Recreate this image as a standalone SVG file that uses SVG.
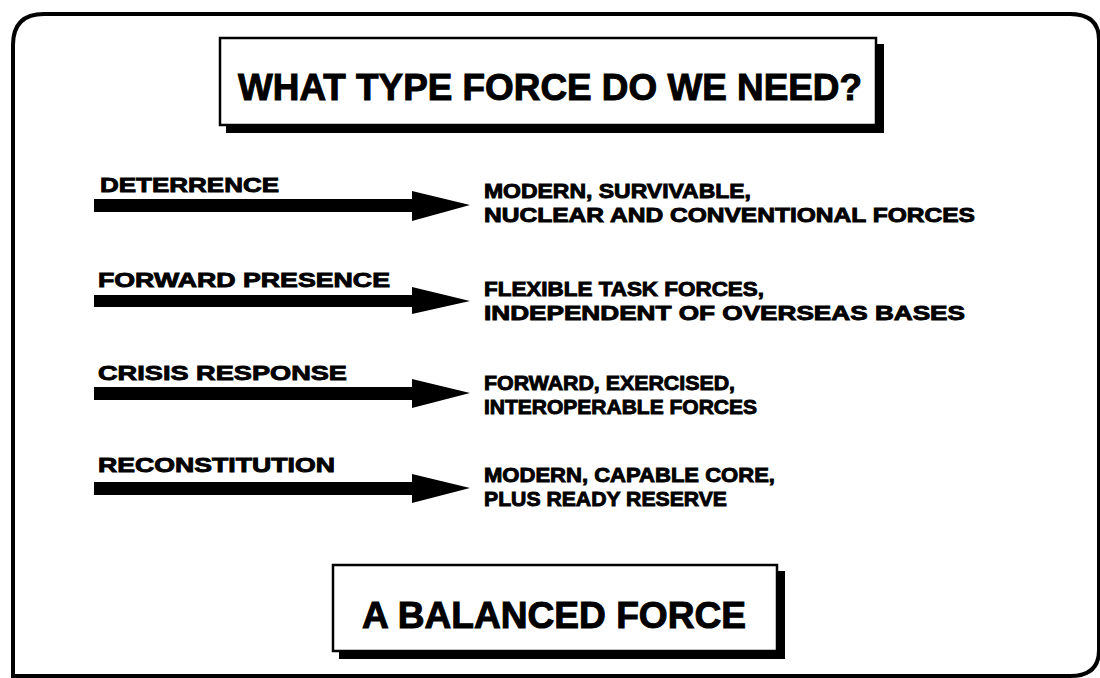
<svg xmlns="http://www.w3.org/2000/svg" width="1100" height="678" viewBox="0 0 1100 678">
<style>
.t{font-family:"Liberation Sans",Arial,sans-serif;font-weight:bold;fill:#000;stroke:#000;stroke-width:0.9}
.lbl{font-size:21px}
.rt{font-size:20px}
.big{font-size:37px;stroke-width:1}
.box{fill:#fff;stroke:#000;stroke-width:2.5}
.shadow{fill:#000}
</style>
<rect x="0" y="0" width="1100" height="678" fill="#fff"/>
<path d="M13,676 L13,45 Q13,14 44,14 L1070,14 Q1099,14 1099,40 L1099,650 Q1099,676 1070,676 Z" fill="none" stroke="#000" stroke-width="4"/>
<g id="title">
<rect class="shadow" x="226" y="44" width="658" height="89"/>
<rect class="box" x="220" y="38" width="656" height="87"/>
<text class="t big" x="238" y="100" textLength="624" lengthAdjust="spacingAndGlyphs">WHAT TYPE FORCE DO WE NEED?</text>
</g>
<g id="connectors" fill="#000">
<path d="M94,199 L412,199 L412,191 L470,205 L412,221 L412,212 L94,212 Z"/>
<path d="M94,295 L412,295 L412,287 L470,301 L412,314 L412,307 L94,307 Z"/>
<path d="M94,387 L412,387 L412,379 L470,393 L412,408 L412,400 L94,400 Z"/>
<path d="M94,482 L412,482 L412,474 L470,488 L412,503 L412,495 L94,495 Z"/>
</g>
<g id="deterrence"><text class="t lbl" x="100" y="192" textLength="179" lengthAdjust="spacingAndGlyphs">DETERRENCE</text></g>
<g id="forward-presence"><text class="t lbl" x="98" y="287" textLength="292" lengthAdjust="spacingAndGlyphs">FORWARD PRESENCE</text></g>
<g id="crisis-response"><text class="t lbl" x="98" y="380" textLength="249" lengthAdjust="spacingAndGlyphs">CRISIS RESPONSE</text></g>
<g id="reconstitution"><text class="t lbl" x="98" y="472" textLength="237" lengthAdjust="spacingAndGlyphs">RECONSTITUTION</text></g>
<g id="r1">
<text class="t rt" x="484" y="198" textLength="267" lengthAdjust="spacingAndGlyphs">MODERN, SURVIVABLE,</text>
<text class="t rt" x="484" y="222" textLength="491" lengthAdjust="spacingAndGlyphs">NUCLEAR AND CONVENTIONAL FORCES</text>
</g>
<g id="r2">
<text class="t rt" x="484" y="296" textLength="280" lengthAdjust="spacingAndGlyphs">FLEXIBLE TASK FORCES,</text>
<text class="t rt" x="484" y="320" textLength="481" lengthAdjust="spacingAndGlyphs">INDEPENDENT OF OVERSEAS BASES</text>
</g>
<g id="r3">
<text class="t rt" x="484" y="390" textLength="251" lengthAdjust="spacingAndGlyphs">FORWARD, EXERCISED,</text>
<text class="t rt" x="484" y="414" textLength="273" lengthAdjust="spacingAndGlyphs">INTEROPERABLE FORCES</text>
</g>
<g id="r4">
<text class="t rt" x="484" y="482" textLength="291" lengthAdjust="spacingAndGlyphs">MODERN, CAPABLE CORE,</text>
<text class="t rt" x="484" y="506" textLength="243" lengthAdjust="spacingAndGlyphs">PLUS READY RESERVE</text>
</g>
<g id="balanced">
<rect class="shadow" x="339" y="571" width="446" height="88"/>
<rect class="box" x="333" y="565" width="444" height="86"/>
<text class="t big" x="362" y="628" textLength="384" lengthAdjust="spacingAndGlyphs">A BALANCED FORCE</text>
</g>
</svg>
